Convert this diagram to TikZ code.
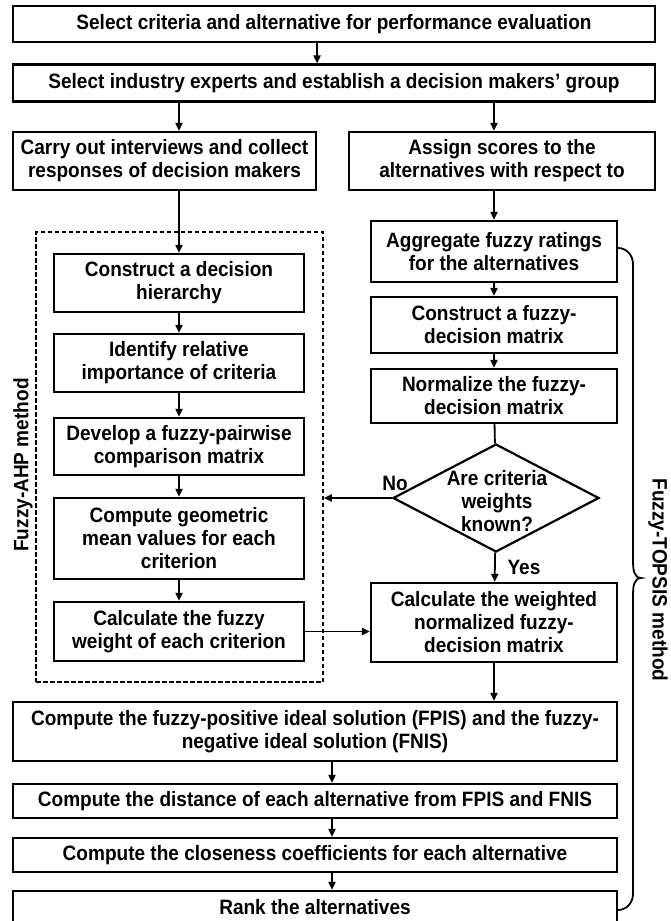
\documentclass[tikz,border=0pt]{standalone}
\usepackage{fontspec}
\setmainfont{Liberation Sans}[FakeStretch=0.915]
\usetikzlibrary{arrows.meta,positioning,shapes.geometric}

\begin{document}
\begin{tikzpicture}[x=1pt, y=1pt,
    every node/.style={font=\bfseries\fontsize{20.8}{23}\selectfont, align=center},
    box/.style={draw, line width=2.2pt, inner sep=0pt},
    ahpbox/.style={draw, line width=1.6pt, dash pattern=on 4.5pt off 2.5pt, inner sep=0pt},
    decision/.style={draw, diamond, line width=2.2pt, inner sep=0pt},
    arr/.style={line width=1.8pt, -{Triangle[length=8pt,width=7pt]}},
    link/.style={line width=1.8pt}]
    \useasboundingbox (0,0) rectangle (671,-921);

    \node[box, minimum width=642, minimum height=36] (crit) at (334,-24) {Select criteria and alternative for performance evaluation};
    \node[box, minimum width=642, minimum height=37] (experts) at (334,-83) {Select industry experts and establish a decision makers’ group};
    \node[box, minimum width=303, minimum height=58] (interview) at (164.5,-161) {Carry out interviews and collect\\responses of decision makers};
    \node[box, minimum width=306, minimum height=58] (assign) at (502,-161) {Assign scores to the\\alternatives with respect to};

    \node[ahpbox, minimum width=287, minimum height=450] (ahp) at (179.5,-457) {};
    \node[box, minimum width=250, minimum height=58] (hier) at (179,-283) {Construct a decision\\hierarchy};
    \node[box, minimum width=250, minimum height=58] (ident) at (179,-363) {Identify relative\\importance of criteria};
    \node[box, minimum width=250, minimum height=57] (pairwise) at (179,-446.5) {Develop a fuzzy-pairwise\\comparison matrix};
    \node[box, minimum width=250, minimum height=81] (geomean) at (179,-538.5) {Compute geometric\\mean values for each\\criterion};
    \node[box, minimum width=250, minimum height=59] (fweight) at (179,-631.5) {Calculate the fuzzy\\weight of each criterion};

    \node[box, minimum width=246, minimum height=61] (agg) at (494,-251.5) {Aggregate fuzzy ratings\\for the alternatives};
    \node[box, minimum width=246, minimum height=56] (fdm) at (494,-325) {Construct a fuzzy-\\decision matrix};
    \node[box, minimum width=246, minimum height=54] (norm) at (494,-396) {Normalize the fuzzy-\\decision matrix};
    \node[decision, minimum width=206, minimum height=108] (known) at (496,-498) {};
    \node at (497,-501.5) {Are criteria\\weights\\known?};
    \node[box, minimum width=246, minimum height=79] (wdm) at (494,-622.5) {Calculate the weighted\\normalized fuzzy-\\decision matrix};

    \node[box, minimum width=604, minimum height=59] (fpis) at (315,-731.5) {Compute the fuzzy-positive ideal solution (FPIS) and the fuzzy-\\negative ideal solution (FNIS)};
    \node[box, minimum width=604, minimum height=34] (dist) at (315,-801) {Compute the distance of each alternative from FPIS and FNIS};
    \node[box, minimum width=604, minimum height=34] (closeness) at (315,-855) {Compute the closeness coefficients for each alternative};
    \node[box, minimum width=604, minimum height=32] (rank) at (315,-907) {Rank the alternatives};

    \node[rotate=90] (ahplabel) at (23,-465) {Fuzzy-AHP method};
    \node[rotate=-90] (topsislabel) at (658,-580) {Fuzzy-TOPSIS method};
    \node (no) at (395,-483) {No};
    \node (yes) at (524,-567) {Yes};

    \draw[arr] (crit.south -| interview.east) -- (experts.north -| interview.east);
    \draw[arr] (experts.south -| hier) -- (interview.north -| hier);
    \draw[arr] (experts.south -| agg) -- (assign.north -| agg);
    \draw[arr] (interview.south -| hier) -- (hier);
    \draw[arr] (assign.south -| agg) -- (agg);
    \draw[arr] (hier) -- (ident);
    \draw[arr] (ident) -- (pairwise);
    \draw[arr] (pairwise) -- (geomean);
    \draw[arr] (geomean) -- (fweight);
    \draw[arr] (agg) -- (fdm);
    \draw[arr] (fdm) -- (norm);
    \draw[link] (norm) -- (known);
    \draw[arr] (known.west) -- (known.west -| ahp.east);
    \draw[arr] (known) -- (wdm);
    \draw[arr] (fweight.east) -- (fweight.east -| wdm.west);
    \draw[arr] (wdm) -- (fpis.north -| wdm);
    \draw[arr] ([xshift=17pt]fpis.south) -- ([xshift=17pt]dist.north);
    \draw[arr] ([xshift=17pt]dist.south) -- ([xshift=17pt]closeness.north);
    \draw[arr] ([xshift=17pt]closeness.south) -- ([xshift=17pt]rank.north);

    \draw[link] (agg.east |- 0,-248) to[out=0,in=90] (633,-264) -- (633,-562)
        to[out=-90,in=180] (641,-578) to[out=180,in=90] (633,-594) -- (633,-894)
        to[out=-90,in=0] (rank.east |- 0,-910);
\end{tikzpicture}
\end{document}
